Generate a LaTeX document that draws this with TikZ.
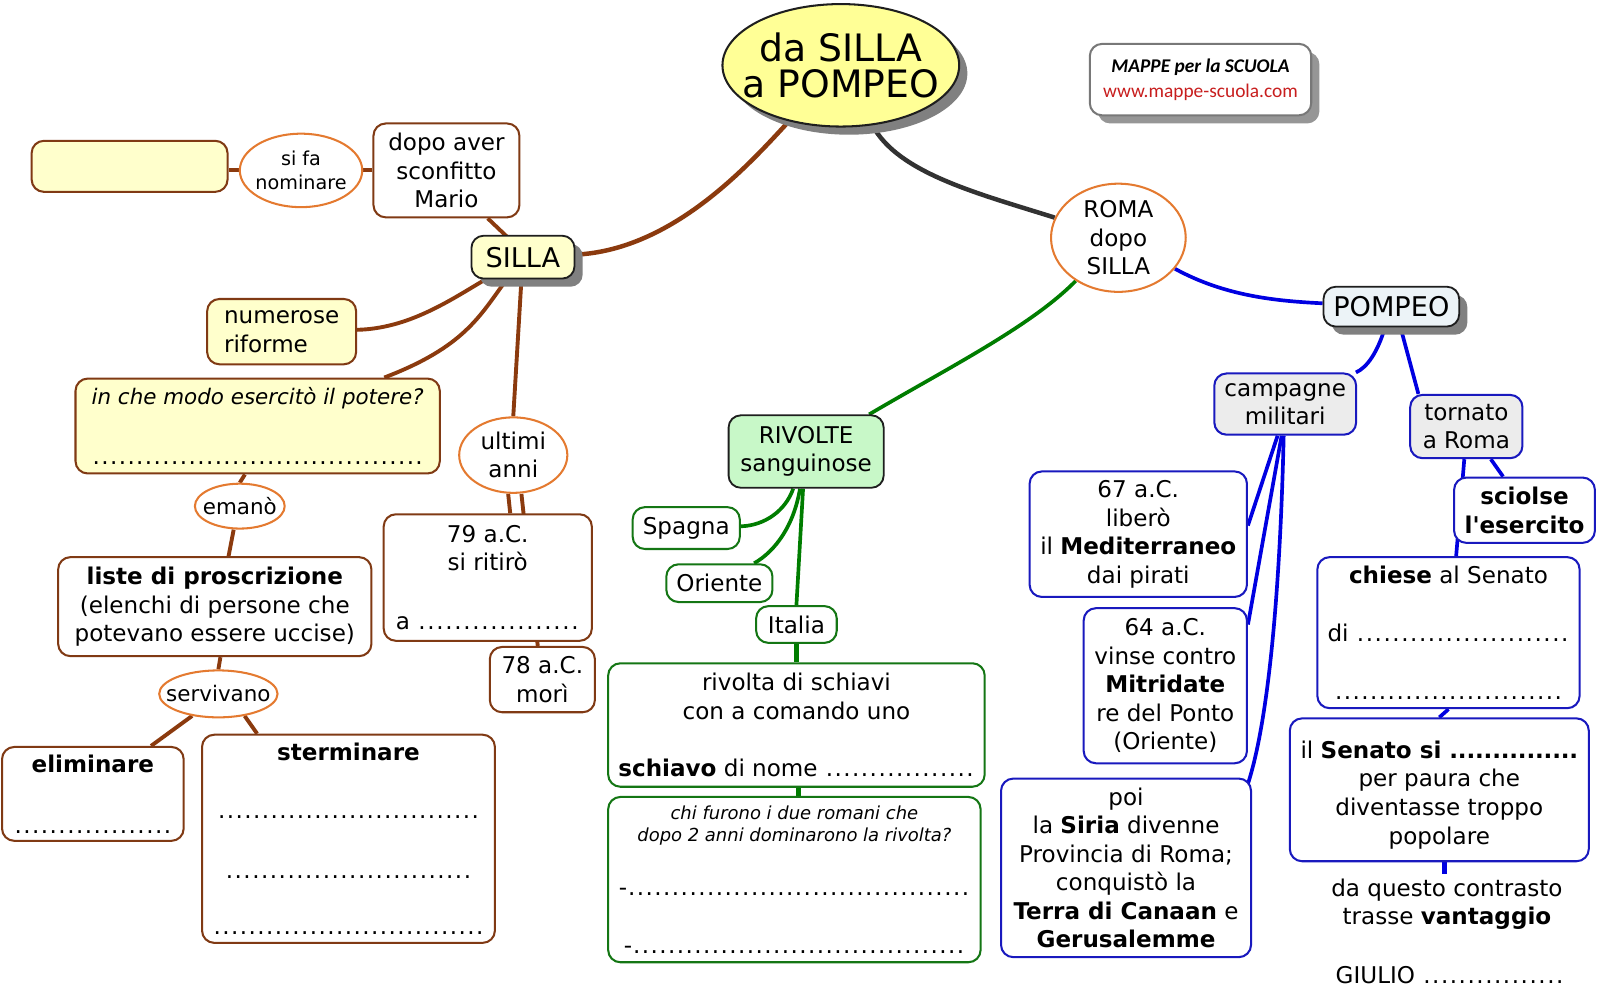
\documentclass[tikz,border=0pt]{standalone}
\usepackage{fontspec}
\setmainfont{DejaVu Sans}
\newfontfamily\logofont{Carlito}
\usetikzlibrary{shapes.geometric,shadows,calc}
\definecolor{brownl}{RGB}{139,58,14}
\definecolor{brownb}{RGB}{128,58,20}
\definecolor{orangeb}{RGB}{228,122,48}
\definecolor{greenl}{RGB}{0,125,0}
\definecolor{greenb}{RGB}{20,118,20}
\definecolor{bluel}{RGB}{0,0,225}
\definecolor{blueb}{RGB}{25,25,190}
\definecolor{grayl}{RGB}{50,50,50}
\definecolor{darkb}{RGB}{30,30,30}
\definecolor{yfill}{RGB}{255,255,204}
\definecolor{titley}{RGB}{255,255,150}
\definecolor{gfill}{RGB}{200,248,200}
\definecolor{pfill}{RGB}{236,243,247}
\definecolor{cfill}{RGB}{236,236,236}
\definecolor{shadowgray}{RGB}{128,128,128}
\definecolor{logoshadow}{RGB}{150,150,150}
\definecolor{urlred}{RGB}{200,30,30}
\newcommand\fnt{\fontsize{11.3}{14}\selectfont}
\newcommand\dotsto[2]{\hbox to #1{#2\xleaders\hbox to 4.2pt{\hss.\hss}\hfill}}
\newcommand\sq{{\addfontfeature{Ligatures=TeXOff}'}}
\pgfdeclarelayer{background}
\pgfsetlayers{background,main}
\begin{document}
\begin{tikzpicture}[x=0.5pt,y=-0.5pt,
  nbase/.style={inner sep=0pt, align=center, font=\fnt},
  sz/.style 2 args={minimum width=#1*0.5pt, minimum height=#2*0.5pt},
  rbox/.style={nbase, rectangle, rounded corners=6pt, line width=1pt, fill=white},
  bbox/.style={rbox, draw=brownb},
  ybox/.style={bbox, fill=yfill},
  gbox/.style={rbox, draw=greenb},
  ubox/.style={rbox, draw=blueb},
  oell/.style={nbase, ellipse, draw=orangeb, line width=1pt, fill=white},
  shad/.style={drop shadow={shadow xshift=4pt, shadow yshift=-4pt, fill=shadowgray, opacity=1}},
  keybox/.style={rbox, draw=darkb, line width=0.9pt, shad},
  keyell/.style={nbase, ellipse, draw=darkb, line width=1pt, fill=titley, shad},
  brownc/.style={draw=brownl, line width=1.9pt},
  greenc/.style={draw=greenl, line width=1.8pt},
  bluec/.style={draw=bluel, line width=1.8pt},
  grayc/.style={draw=grayl, line width=2.2pt},
  ellfont/.style={font=\fontsize{10.5}{12.5}\selectfont}
]
\useasboundingbox (0,0) rectangle (1568,980);

% ---- title and logo
\node[keyell, sz={232}{120}, inner xsep=-9pt, font=\fontsize{18.5}{17.5}\selectfont] (title) at (824,64) {da SILLA\\a POMPEO};
\node[rbox, draw=logoshadow!80!black, sz={217}{70}, font=\logofont\fontsize{9.5}{12}\selectfont,
      drop shadow={shadow xshift=4pt, shadow yshift=-4pt, fill=logoshadow, opacity=1}] (logo) at (1176.5,78)
      {{\bfseries\itshape MAPPE per la SCUOLA}\\{\color{urlred}www.mappe-scuola.com}};

% ---- SILLA branch
\node[keybox, fill=yfill, sz={101}{42}, font=\fontsize{13.3}{16}\selectfont] (silla) at (512.5,252) {SILLA};
\node[ybox, sz={192}{50}] (ybox1) at (127,163) {};
\node[oell, sz={120}{72}, inner xsep=-1.5pt, font=\fontsize{9.4}{11.5}\selectfont] (sifa) at (295,167) {si fa\\nominare};
\node[bbox, sz={143}{92}] (dopo) at (437.5,167) {dopo aver\\sconfitto\\Mario};
\node[ybox, sz={146}{64}, align=left] (numerose) at (276,325) {numerose\\riforme};
\node[ybox, sz={357}{93}] (inche) at (252.5,417.5)
  {{\fontsize{10.5}{14}\selectfont\itshape in che modo esercitò il potere?}\\[15.5pt]\dotsto{162.5pt}{}};
\node[oell, sz={106}{74}] (ultimi) at (503,446) {ultimi\\anni};
\node[bbox, sz={204}{124}] (r79) at (478,566) {79 a.C.\\si ritirò\\[15pt]\dotsto{90pt}{a }};
\node[bbox, sz={103}{64}] (r78) at (531.5,666) {78 a.C.\\morì};
\node[oell, sz={88}{44}, inner xsep=-3pt, ellfont] (emano) at (235,496) {emanò};
\node[bbox, sz={307}{97}] (liste) at (210.5,594.5) {\textbf{liste di proscrizione}\\(elenchi di persone che\\potevano essere uccise)};
\node[oell, sz={116}{46}, inner xsep=-5.5pt, ellfont] (servivano) at (214,680) {servivano};
\node[bbox, sz={178}{92}] (elim) at (91,778) {\textbf{eliminare}\\[16pt]\dotsto{77.5pt}{}};
\node[bbox, sz={287}{204}] (sterm) at (341.5,822)
  {\textbf{sterminare}\\[14.5pt]\dotsto{128.5pt}{}\\[15pt]\dotsto{121pt}{}\\[13.5pt]\dotsto{133pt}{}};

% ---- ROMA and RIVOLTE branch
\node[oell, sz={132}{106}, inner ysep=-1.5pt] (roma) at (1096,233) {ROMA\\dopo\\SILLA};
\node[rbox, draw=darkb, line width=0.9pt, fill=gfill, sz={152}{71}] (rivolte) at (790,442.5) {RIVOLTE\\sanguinose};
\node[gbox, sz={105}{41}] (spagna) at (672.5,517.5) {Spagna};
\node[gbox, sz={104}{37}] (oriente) at (705,571.5) {Oriente};
\node[gbox, sz={79}{36}] (italia) at (780.5,612) {Italia};
\node[gbox, sz={369}{121}] (rivolta) at (780.5,710.5)
  {rivolta di schiavi\\con a comando uno\\[14pt]\dotsto{174.5pt}{\textbf{schiavo} di nome }};
\node[gbox, sz={365}{162}, font=\fontsize{8.8}{10.5}\selectfont\itshape] (chi) at (778.5,862)
  {chi furono i due romani che\\dopo 2 anni dominarono la rivolta?\\[16pt]{\upshape\fnt\dotsto{172pt}{-}}\\[18pt]{\upshape\fnt\dotsto{167pt}{-}}};

% ---- POMPEO branch
\node[keybox, fill=pfill, sz={133}{39}, font=\fontsize{13.3}{16}\selectfont] (pompeo) at (1363.5,300.5) {POMPEO};
\node[ubox, fill=cfill, sz={139}{60}] (campagne) at (1259.5,396) {campagne\\militari};
\node[ubox, fill=cfill, sz={110}{62}] (tornato) at (1437,418) {tornato\\a Roma};
\node[ubox, sz={213}{123}] (m67) at (1115.5,523.5) {67 a.C.\\liberò\\il \textbf{Mediterraneo}\\dai pirati};
\node[ubox, sz={160}{152}] (m64) at (1142,672) {64 a.C.\\vinse contro\\\textbf{Mitridate}\\re del Ponto\\(Oriente)};
\node[ubox, sz={245}{175}] (poi) at (1103.5,850.5)
  {poi\\la \textbf{Siria} divenne\\Provincia di Roma;\\conquistò la\\\textbf{Terra di Canaan} e\\\textbf{Gerusalemme}};
\node[ubox, sz={138}{64}, font=\fnt\bfseries] (sciolse) at (1494,500) {sciolse\\l\sq esercito};
\node[ubox, sz={257}{148}] (chiese) at (1419.5,620)
  {\textbf{chiese} al Senato\\[14.5pt]\dotsto{118.5pt}{di }\\[14.5pt]\dotsto{112pt}{}};
\node[ubox, sz={293}{140}] (senato) at (1410.5,774)
  {\mbox{}\\[-0.5pt]\dotsto{136pt}{il \bfseries Senato si }\\per paura che\\diventasse troppo\\popolare};
\node[nbase, inner sep=2pt] (vantaggio) at (1418,886) {da questo contrasto\\trasse \textbf{vantaggio}};
\node[nbase] (giulio) at (1421,956) {\dotsto{112pt}{GIULIO }};

% ---- connectors
\begin{pgfonlayer}{background}
\draw[brownc, line width=2.2pt] (title) .. controls (735,160) and (660,245) .. (silla);
\draw[grayc] (title) .. controls (880,170) and (960,190) .. (roma);
\draw[greenc] (roma) .. controls (1010,320) and (930,360) .. (rivolte);
\draw[bluec] (roma) .. controls (1200,290) and (1250,295) .. (pompeo);

\draw[brownc] ($(silla.north)+(-15.5,2)$) -- ($(dopo.south)+(40.5,0)$);
\draw[brownc] (dopo.west) -- (sifa.east);
\draw[brownc] (sifa.west) -- (sifa.west -| ybox1.east);
\draw[brownc] (silla) .. controls (440,295) and (400,322) .. (numerose);
\draw[brownc] (silla) .. controls (470,310) and (455,340) .. (inche);
\draw[brownc] ($(silla.south)+(-1.5,0)$) -- (ultimi.north);
\draw[brownc] ($(ultimi.south)+(-5,0)$) -- ($(r79.north)+(22,0)$);
\draw[brownc] ($(ultimi.south)+(8,0)$) -- ($(r78.north)+(-4.5,0)$);
\draw[brownc] ($(inche.south)+(-12.5,0)$) -- (emano.north);
\draw[brownc] ($(emano.south)+(-6,0)$) -- ($(liste.north)+(13.5,0)$);
\draw[brownc] ($(liste.south)+(5.5,0)$) -- (servivano.north);
\draw[brownc] (servivano.220) -- ($(elim.north)+(57,0)$);
\draw[brownc] (servivano.320) -- ($(sterm.north)+(-89.5,0)$);

\draw[greenc] (rivolte) .. controls (770,500) and (750,515) .. (spagna);
\draw[greenc] (rivolte) .. controls (778,515) and (760,540) .. (oriente);
\draw[greenc] ($(rivolte.south)+(-3,0)$) -- (italia.north);
\draw[greenc, line width=2.6pt] (italia.south) -- (rivolta.north);
\draw[greenc, line width=2.6pt] ($(rivolta.south)+(2,0)$) -- ($(chi.north)+(4,0)$);

\draw[bluec] (pompeo) .. controls (1350,345) and (1340,360) .. (campagne);
\draw[bluec] ($(pompeo.south)+(9,0)$) -- ($(tornato.north)+(-47,0)$);
\draw[bluec] ($(campagne.south)+(-7.5,0)$) -- ($(m67.east)+(0,-8.5)$);
\draw[bluec] ($(campagne.south)+(-3.5,0)$) -- ($(m64.east)+(0,-60)$);
\draw[bluec] ($(campagne.south)+(-1.5,0)$) .. controls (1255,560) and (1245,700) .. ($(poi.north east)+(-4,6)$);
\draw[bluec] ($(tornato.south)+(24,0)$) -- ($(sciolse.north)+(-21,0)$);
\draw[bluec] ($(tornato.south)+(-2,0)$) -- ($(chiese.north)+(7.5,0)$);
\draw[bluec] (chiese.south) -- (senato.north);
\draw[bluec, line width=2.4pt] ($(senato.south)+(5,0)$) -- ($(vantaggio.north)+(-2.5,0)$);
\end{pgfonlayer}
\end{tikzpicture}
\end{document}
